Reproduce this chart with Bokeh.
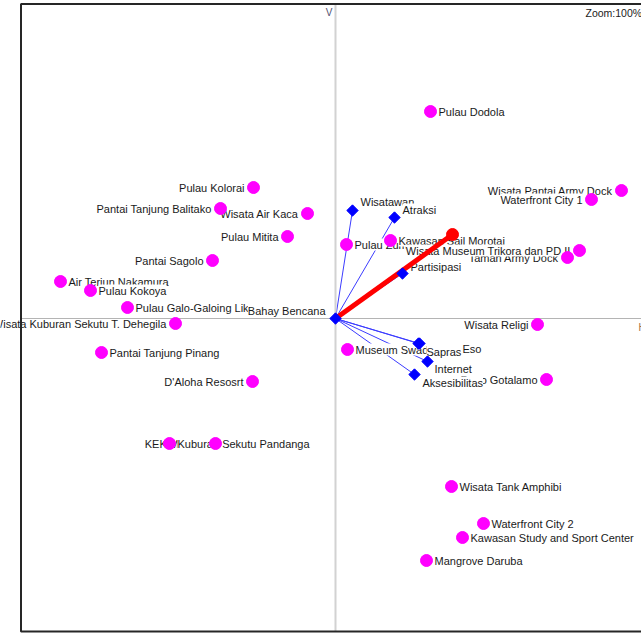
from bokeh.plotting import figure
from bokeh.models import ColumnDataSource, Range1d
from bokeh.embed import file_html
from bokeh.resources import INLINE
from bokeh.core.properties import value, field

# ---- data: object points (drawing order matters: later labels cover earlier) ----
point_names = [
    "Pulau Dodola", "Pulau Kolorai", "Pantai Tanjung Balitako", "Wisata Air Kaca",
    "Pulau Mitita", "Pantai Sagolo", "Air Terjun Nakamura", "Pulau Kokoya",
    "Pulau Galo-Galoing Liku", "Wisata Kuburan Sekutu T. Dehegila",
    "Pantai Tanjung Pinang", "D'Aloha Resosrt", "KEK Morotai",
    "Kuburan Sekutu Pandanga", "Pulau Zum Zum", "Kawasan Sail Morotai",
    "Taman Army Dock", "Wisata Museum Trikora dan PD II",
    "Wisata Pantai Army Dock", "Waterfront City 1", "Wisata Religi",
    "Museum Swadaya", "Daeo Gotalamo", "Wisata Tank Amphibi",
    "Waterfront City 2", "Kawasan Study and Sport Center", "Mangrove Daruba",
]
point_x = [0.95, -0.82, -1.15, -0.28, -0.48, -1.23, -2.75, -2.45, -2.08, -1.60,
           -2.34, -0.83, -1.20, -1.66, 0.11, 0.55, 2.32, 2.44, 2.86, 2.56, 2.02,
           0.12, 2.11, 1.16, 1.48, 1.27, 0.91]
point_y = [2.07, 1.31, 1.10, 1.05, 0.82, 0.58, 0.37, 0.28, 0.11, -0.05,
           -0.34, -0.63, -1.25, -1.25, 0.74, 0.78, 0.61, 0.68, 1.28, 1.19, -0.06,
           -0.31, -0.61, -1.68, -2.05, -2.19, -2.42]
point_side = ["R", "L", "L", "L", "L", "L", "R", "R", "R", "L",
              "R", "L", "L", "R", "R", "R", "L", "L", "L", "L", "L",
              "R", "L", "R", "R", "R", "R"]

# ---- data: variable vectors ----
var_names = ["Bahay Bencana", "Wisatawan", "Atraksi", "Partisipasi",
             "Sapras", "Eso", "Internet", "Aksesibilitas"]
var_x = [0.00, 0.17, 0.59, 0.67, 0.83, 0.84, 0.92, 0.79]
var_y = [0.00, 1.08, 1.01, 0.45, -0.25, -0.25, -0.43, -0.56]
# label placement (screen px) for each variable label
var_dx = [-10, 8, 8, 8, 8, 43, 7, 8]
var_dy = [-8, -9, -8, -7, 8, 5, 7, 8]
var_align = ["right", "left", "left", "left", "left", "left", "left", "left"]

# ---- supplementary (red) vector ----
sup_x = [1.17]
sup_y = [0.84]

# ---- view / frame constants ----
X_START, X_END = -3.35, 3.06
Y_START, Y_END = -3.15, 3.18
BORDER_LEFT = -3.145
BORDER_TOP = 3.145
BORDER_BOTTOM = -3.13

FONT = value("Liberation Sans")

p = figure(width=641, height=633, output_backend="svg", toolbar_location=None,
           x_range=Range1d(X_START, X_END), y_range=Range1d(Y_START, Y_END),
           x_axis_type=None, y_axis_type=None, min_border=0)
p.grid.visible = False
p.outline_line_color = None
p.background_fill_color = "white"
p.border_fill_color = "white"

# vectors from origin (blue)
p.segment(x0=[0] * len(var_x), y0=[0] * len(var_y), x1=var_x, y1=var_y,
          line_color="#3c3cff", line_width=1)

# point labels with white boxes
psrc = ColumnDataSource(dict(
    x=point_x, y=point_y, name=point_names,
    dx=[8 if s == "R" else -9 for s in point_side],
    align=["left" if s == "R" else "right" for s in point_side],
))
p.text(x="x", y="y", text="name", source=psrc, x_offset="dx",
       text_align=field("align"), text_baseline="middle",
       text_font=FONT, text_font_size="11px", text_color="#1a1a1a",
       background_fill_color="white")

# axis lines
p.segment(x0=[0], y0=[BORDER_BOTTOM], x1=[0], y1=[BORDER_TOP],
          line_color="#d2d2d2", line_width=2)
p.segment(x0=[BORDER_LEFT], y0=[0], x1=[X_END], y1=[0],
          line_color="#b4b4b4", line_width=1.2)

# points
p.scatter(x="x", y="y", source=psrc, marker="circle", size=12,
          fill_color="#ff00ff", line_color="#ff00ff")

# variable labels
vsrc = ColumnDataSource(dict(x=var_x, y=var_y, name=var_names,
                             dx=var_dx, dy=var_dy, align=var_align))
p.text(x="x", y="y", text="name", source=vsrc, x_offset="dx", y_offset="dy",
       text_align=field("align"), text_baseline="middle",
       text_font=FONT, text_font_size="11px", text_color="#1a1a1a",
       background_fill_color="white")

# red supplementary vector
p.segment(x0=[0], y0=[0], x1=sup_x, y1=sup_y, line_color="#ff0000", line_width=5)
p.scatter(x=sup_x, y=sup_y, marker="circle", size=12,
          fill_color="#ff0000", line_color="#ff0000")

# diamonds
p.scatter(x="x", y="y", source=vsrc, marker="square", size=8, angle=0.785398,
          fill_color="#0000ff", line_color="#0000ff")

# frame borders
p.line(x=[X_END, BORDER_LEFT, BORDER_LEFT, X_END],
       y=[BORDER_TOP, BORDER_TOP, BORDER_BOTTOM, BORDER_BOTTOM],
       line_color="#262626", line_width=2)

# corner texts
p.text(x=[-0.03], y=[3.06], text=["V"], text_align="right", text_baseline="middle",
       text_font=FONT, text_font_size="10px", text_color="#505070")
p.text(x=[2.50], y=[3.06], text=["Zoom:100%"], text_align="left",
       text_baseline="middle", text_font=FONT, text_font_size="10.5px",
       text_color="#1a1a1a")
p.text(x=[3.03], y=[-0.09], text=["H"], text_align="left", text_baseline="middle",
       text_font=FONT, text_font_size="10px", text_color="#a07040")

open("out.html", "w").write(file_html(p, INLINE))
